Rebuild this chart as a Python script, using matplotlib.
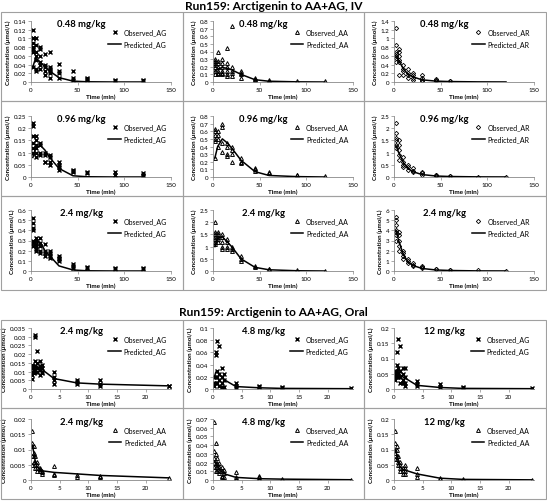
import matplotlib
matplotlib.use('Agg')
import matplotlib.pyplot as plt
from matplotlib.patches import Rectangle
from matplotlib.ticker import FuncFormatter

plt.rcParams['font.family'] = ['Lato', 'DejaVu Sans']

# sampling times
iv_times = [2, 5, 10, 15, 20, 30, 45, 60, 90, 120]
oral_times = [0.25, 0.5, 0.75, 1, 1.5, 2, 4, 8, 12, 24]

# ---- IV observed (one list per time point) and predicted ----
iv_ag_048 = [[0.12, 0.1, 0.1, 0.09, 0.08, 0.075, 0.07, 0.035], [0.1, 0.085, 0.07, 0.06, 0.05, 0.03, 0.025],
             [0.08, 0.075, 0.06, 0.045, 0.04, 0.03], [0.065, 0.04, 0.035, 0.025, 0.015],
             [0.068, 0.035, 0.03, 0.025, 0.02, 0.01], [0.042, 0.025, 0.02, 0.01], [0.025, 0.01, 0.005],
             [0.01, 0.008, 0.005], [0.005, 0.003], [0.005, 0.003]]
iv_ag_048_pred = [0.035, 0.055, 0.045, 0.035, 0.025, 0.01, 0.002, 0.0005, 0.0, 0.0]

iv_aa_048 = [[0.3, 0.28, 0.25, 0.22, 0.2, 0.15, 0.1], [0.4, 0.28, 0.25, 0.2, 0.15, 0.12, 0.1],
             [0.3, 0.25, 0.2, 0.15, 0.12, 0.1], [0.45, 0.25, 0.2, 0.15, 0.1, 0.08],
             [0.73, 0.2, 0.15, 0.12, 0.08], [0.15, 0.12, 0.1, 0.05], [0.05, 0.04, 0.02],
             [0.02, 0.01], [0.01], [0.01]]
iv_aa_048_pred = [0.14, 0.17, 0.19, 0.18, 0.16, 0.1, 0.03, 0.01, 0.002, 0.0]

iv_ar_048 = [[1.25, 0.85, 0.7, 0.65, 0.6, 0.55, 0.45], [0.75, 0.7, 0.6, 0.5, 0.45, 0.15],
             [0.4, 0.3, 0.25, 0.15], [0.3, 0.2, 0.15, 0.1], [0.2, 0.15, 0.1, 0.05],
             [0.15, 0.1, 0.05, 0.02], [0.08, 0.05, 0.03], [0.03, 0.02], [], []]
iv_ar_048_pred = [0.6, 0.5, 0.3, 0.18, 0.12, 0.05, 0.02, 0.01, 0.003, 0.001]

iv_ag_096 = [[0.22, 0.21, 0.17, 0.14, 0.12, 0.1], [0.17, 0.15, 0.13, 0.12, 0.1, 0.08],
             [0.14, 0.13, 0.1, 0.09], [0.1, 0.09, 0.06, 0.06], [0.09, 0.08, 0.06, 0.05],
             [0.06, 0.05, 0.04, 0.03], [0.03, 0.025, 0.02], [0.02, 0.015], [0.02, 0.01],
             [0.015, 0.01, 0.005]]
iv_ag_096_pred = [0.08, 0.12, 0.13, 0.11, 0.08, 0.035, 0.005, 0.001, 0.0, 0.0]

iv_aa_096 = [[0.63, 0.6, 0.55, 0.5, 0.47, 0.25], [0.6, 0.55, 0.5, 0.4], [0.7, 0.65, 0.45, 0.33],
             [0.45, 0.4, 0.3, 0.28], [0.4, 0.35, 0.3, 0.2], [0.25, 0.2, 0.18], [0.12, 0.1, 0.08],
             [0.07, 0.05], [0.03, 0.02], [0.01]]
iv_aa_096_pred = [0.25, 0.4, 0.5, 0.45, 0.38, 0.22, 0.07, 0.02, 0.005, 0.0]

iv_ar_096 = [[2.2, 1.8, 1.6, 1.5, 1.3, 1.2], [1.5, 1.3, 1.1, 0.9, 0.7], [0.8, 0.6, 0.5, 0.4],
             [0.5, 0.4, 0.3], [0.35, 0.25, 0.2], [0.2, 0.15, 0.1], [0.1, 0.08, 0.05],
             [0.05, 0.03], [0.02], [0.01]]
iv_ar_096_pred = [1.3, 1.0, 0.6, 0.35, 0.22, 0.1, 0.04, 0.02, 0.005, 0.002]

iv_ag_24 = [[0.52, 0.47, 0.42, 0.4, 0.3, 0.28, 0.25], [0.32, 0.3, 0.27, 0.25, 0.22, 0.2],
            [0.32, 0.28, 0.25, 0.2, 0.18], [0.27, 0.2, 0.18, 0.15], [0.2, 0.18, 0.15, 0.13],
            [0.15, 0.13, 0.12, 0.1], [0.07, 0.05, 0.03], [0.04, 0.03], [0.03, 0.02], [0.03, 0.02]]
iv_ag_24_pred = [0.28, 0.3, 0.28, 0.2, 0.15, 0.05, 0.01, 0.002, 0.0, 0.0]

iv_aa_24 = [[2.0, 1.6, 1.5, 1.4, 1.3, 1.2, 1.1], [1.6, 1.5, 1.4, 1.3, 1.2], [1.5, 1.4, 1.2, 1.0, 0.9],
            [1.3, 1.2, 1.0, 0.9], [1.0, 0.9, 0.8], [0.6, 0.5, 0.4], [0.2, 0.15], [0.1, 0.08],
            [0.05], [0.02]]
iv_aa_24_pred = [1.0, 1.35, 1.4, 1.2, 1.0, 0.5, 0.15, 0.05, 0.01, 0.0]

iv_ar_24 = [[5.3, 5.0, 4.5, 4.0, 3.8, 3.5, 3.0], [3.8, 3.5, 3.0, 2.5, 2.0], [2.0, 1.8, 1.5, 1.2],
            [1.2, 1.0, 0.8], [0.8, 0.6, 0.5], [0.5, 0.4, 0.3], [0.2, 0.15], [0.1, 0.08],
            [0.05], [0.02]]
iv_ar_24_pred = [4.0, 3.0, 1.6, 0.9, 0.55, 0.25, 0.1, 0.05, 0.01, 0.005]

# ---- Oral observed and predicted ----
or_ag_24 = [[0.014, 0.012, 0.01, 0.008, 0.006], [0.012, 0.011, 0.01, 0.009],
            [0.031, 0.03, 0.016, 0.013, 0.01], [0.022, 0.015, 0.012, 0.01],
            [0.016, 0.013, 0.011, 0.008], [0.014, 0.012, 0.01, 0.009], [0.01, 0.007, 0.005, 0.003],
            [0.005, 0.004, 0.003], [0.005, 0.003, 0.002], [0.002, 0.0015]]
or_ag_24_pred = [0.0135, 0.014, 0.0135, 0.013, 0.012, 0.011, 0.006, 0.0035, 0.0028, 0.0018]

or_ag_48 = [[0.02, 0.01, 0.005], [0.06, 0.055, 0.02, 0.01], [0.078, 0.03, 0.02, 0.01],
            [0.07, 0.025, 0.015, 0.005], [0.035, 0.02, 0.01, 0.003], [0.025, 0.015, 0.003],
            [0.01, 0.005, 0.002], [0.005, 0.003], [0.003, 0.002], [0.001]]
or_ag_48_pred = [0.02, 0.028, 0.028, 0.025, 0.02, 0.015, 0.004, 0.002, 0.001, 0.0005]

or_ag_12 = [[0.06, 0.05, 0.04, 0.03], [0.12, 0.08, 0.06, 0.04], [0.165, 0.07, 0.05, 0.04],
            [0.14, 0.06, 0.04, 0.02], [0.07, 0.05, 0.03, 0.02], [0.07, 0.04, 0.02, 0.01],
            [0.025, 0.015, 0.01], [0.015, 0.005], [0.005, 0.003], [0.003]]
or_ag_12_pred = [0.045, 0.05, 0.05, 0.048, 0.04, 0.035, 0.012, 0.005, 0.002, 0.001]

or_aa_24 = [[0.016, 0.012, 0.011, 0.008, 0.005], [0.011, 0.009, 0.008, 0.006],
            [0.008, 0.006, 0.005, 0.004], [0.006, 0.005, 0.004, 0.003], [0.004, 0.0035, 0.003],
            [0.003, 0.0025, 0.002], [0.0045, 0.002, 0.0015], [0.0015, 0.001], [0.0012, 0.001], [0.0008]]
or_aa_24_pred = [0.011, 0.009, 0.006, 0.0045, 0.0035, 0.003, 0.0025, 0.002, 0.0015, 0.0007]

or_aa_48 = [[0.067, 0.033, 0.025, 0.02, 0.015], [0.042, 0.03, 0.02, 0.015, 0.01],
            [0.025, 0.02, 0.015, 0.01], [0.02, 0.015, 0.01, 0.008], [0.015, 0.01, 0.005, 0.003],
            [0.012, 0.008, 0.003], [0.009, 0.003, 0.001], [0.005, 0.003, 0.001], [0.001], [0.0005]]
or_aa_48_pred = [0.022, 0.02, 0.017, 0.014, 0.01, 0.007, 0.003, 0.0015, 0.001, 0.0003]

or_aa_12 = [[0.16, 0.12, 0.1, 0.09, 0.07], [0.11, 0.1, 0.08, 0.07], [0.08, 0.06, 0.05],
            [0.06, 0.05, 0.04, 0.03], [0.04, 0.03, 0.02], [0.05, 0.04, 0.03, 0.02],
            [0.04, 0.02, 0.01], [0.005, 0.003], [0.002], [0.001]]
or_aa_12_pred = [0.1, 0.08, 0.06, 0.045, 0.035, 0.032, 0.02, 0.006, 0.002, 0.0005]

W, H = 547, 502
fig = plt.figure(figsize=(W / 100, H / 100), dpi=100)

col_x = [1, 183, 364, 546]
iv_rows = [13, 102, 197, 291]
oral_rows = [321, 409, 500]

markers = {'AG': dict(marker='x', ms=2.3, mew=1.0, color='black', ls='none'),
           'AA': dict(marker='^', ms=2.8, mew=0.7, mfc='none', mec='black', ls='none'),
           'AR': dict(marker='D', ms=2.2, mew=0.6, mfc='none', mec='black', ls='none')}


def fmt(v, pos):
    return '{:g}'.format(round(v, 6))


def panel(px0, px1, py0, py1, times, obs, pred, kind, dose, ymax, ystep, xmax, xticks):
    fig.add_artist(Rectangle((px0 / W, 1 - py1 / H), (px1 - px0) / W, (py1 - py0) / H,
                             transform=fig.transFigure, fill=False, ec='#a0a0a0', lw=0.8))
    l, r = px0 + 30, px0 + 170
    b = py1 - 19
    t = b - 61
    ax = fig.add_axes([l / W, 1 - b / H, (r - l) / W, (b - t) / H])
    xs, ys = [], []
    for tt, vals in zip(times, obs):
        xs += [tt] * len(vals)
        ys += vals
    ax.plot(xs, ys, label='Observed_' + kind, **markers[kind])
    ax.plot(times, pred, color='black', lw=1.1, label='Predicted_' + kind)
    ax.set_xlim(0, xmax)
    ax.set_ylim(0, ymax)
    ax.set_xticks(xticks)
    n = int(round(ymax / ystep))
    ax.set_yticks([i * ystep for i in range(n + 1)])
    ax.yaxis.set_major_formatter(FuncFormatter(fmt))
    ax.tick_params(labelsize=4.5, length=2, width=0.5, pad=1.5, color='#888888')
    for s in ['top', 'right']:
        ax.spines[s].set_visible(False)
    for s in ['left', 'bottom']:
        ax.spines[s].set_color('#888888')
        ax.spines[s].set_linewidth(0.6)
    ax.set_xlabel('Time (min)', fontsize=4.6, fontweight='bold', labelpad=1.5)
    ax.set_ylabel('Concentration (μmol/L)', fontsize=4.4, fontweight='bold', labelpad=2)
    ax.text(0.36, 0.96, dose, transform=ax.transAxes, ha='center', va='center',
            fontsize=6.8, fontweight='bold')
    ax.legend(loc='upper right', bbox_to_anchor=(0.99, 0.92), frameon=False, fontsize=5,
              handlelength=1.8, labelspacing=0.7, handletextpad=0.4, borderaxespad=0)
    return ax


fig.text(0.5, 1 - 7 / H, 'Run159: Arctigenin to AA+AG, IV', ha='center', va='center',
         fontsize=8.6, fontweight='bold')
fig.text(0.5, 1 - 313 / H, 'Run159: Arctigenin to AA+AG, Oral', ha='center', va='center',
         fontsize=8.6, fontweight='bold')

iv_panels = [
    [(iv_ag_048, iv_ag_048_pred, 'AG', '0.48 mg/kg', 0.14, 0.02),
     (iv_aa_048, iv_aa_048_pred, 'AA', '0.48 mg/kg', 0.8, 0.1),
     (iv_ar_048, iv_ar_048_pred, 'AR', '0.48 mg/kg', 1.4, 0.2)],
    [(iv_ag_096, iv_ag_096_pred, 'AG', '0.96 mg/kg', 0.25, 0.05),
     (iv_aa_096, iv_aa_096_pred, 'AA', '0.96 mg/kg', 0.8, 0.1),
     (iv_ar_096, iv_ar_096_pred, 'AR', '0.96 mg/kg', 2.5, 0.5)],
    [(iv_ag_24, iv_ag_24_pred, 'AG', '2.4 mg/kg', 0.6, 0.1),
     (iv_aa_24, iv_aa_24_pred, 'AA', '2.4 mg/kg', 2.5, 0.5),
     (iv_ar_24, iv_ar_24_pred, 'AR', '2.4 mg/kg', 6, 1)],
]
for i, row in enumerate(iv_panels):
    for j, (obs, pred, kind, dose, ymax, ystep) in enumerate(row):
        panel(col_x[j], col_x[j + 1], iv_rows[i], iv_rows[i + 1], iv_times, obs, pred, kind,
              dose, ymax, ystep, 150, [0, 50, 100, 150])

oral_panels = [
    [(or_ag_24, or_ag_24_pred, 'AG', '2.4 mg/kg', 0.035, 0.005),
     (or_ag_48, or_ag_48_pred, 'AG', '4.8 mg/kg', 0.1, 0.02),
     (or_ag_12, or_ag_12_pred, 'AG', '12 mg/kg', 0.2, 0.05)],
    [(or_aa_24, or_aa_24_pred, 'AA', '2.4 mg/kg', 0.02, 0.005),
     (or_aa_48, or_aa_48_pred, 'AA', '4.8 mg/kg', 0.07, 0.01),
     (or_aa_12, or_aa_12_pred, 'AA', '12 mg/kg', 0.2, 0.05)],
]
for i, row in enumerate(oral_panels):
    for j, (obs, pred, kind, dose, ymax, ystep) in enumerate(row):
        panel(col_x[j], col_x[j + 1], oral_rows[i], oral_rows[i + 1], oral_times, obs, pred, kind,
              dose, ymax, ystep, 24.4, [0, 5, 10, 15, 20])

fig.savefig('out.png', dpi=100)
